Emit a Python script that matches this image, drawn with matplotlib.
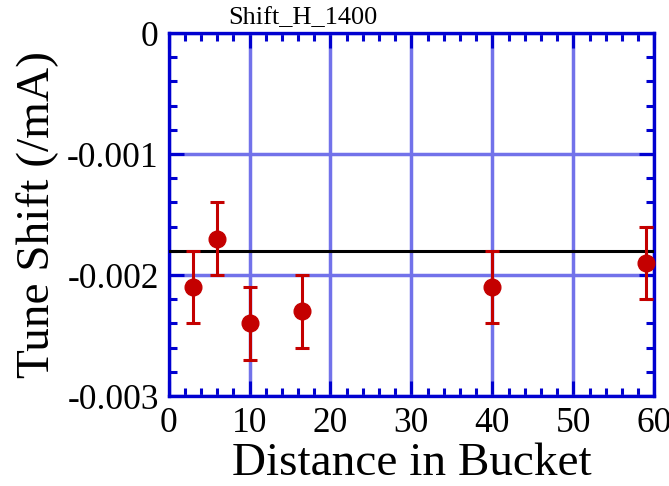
"""Tune shift vs. distance in bucket (Shift_H_1400)."""
import matplotlib.pyplot as plt
from matplotlib.ticker import MultipleLocator, FixedLocator

distance = [3, 6, 10, 16.5, 40, 59]
tune_shift = [-0.0021, -0.0017, -0.0024, -0.0023, -0.0021, -0.0019]
shift_err = [0.0003, 0.0003, 0.0003, 0.0003, 0.0003, 0.0003]
reference_level = -0.0018

x_ticks = [0, 10, 20, 30, 40, 50, 60]
y_ticks = [0, -0.001, -0.002, -0.003]
y_ticklabels = ["0", "-0.001", "-0.002", "-0.003"]

plt.rcParams["font.family"] = ["Liberation Serif", "DejaVu Serif"]

BLUE = "#0000d0"
GRID = "#7272ea"
RED = "#c40000"

fig = plt.figure(figsize=(6.69, 4.86), dpi=100)
ax = fig.add_axes([0.252, 0.185, 0.726, 0.747])

ax.set_xlim(0, 60)
ax.set_ylim(-0.003, 0)

ax.xaxis.set_major_locator(FixedLocator(x_ticks))
ax.xaxis.set_minor_locator(MultipleLocator(2))
ax.yaxis.set_major_locator(FixedLocator(y_ticks))
ax.yaxis.set_minor_locator(MultipleLocator(0.0002))
ax.set_yticklabels(y_ticklabels)

ax.grid(True, which="major", color=GRID, lw=2.5, zorder=0)
ax.set_axisbelow(True)

for s in ax.spines.values():
    s.set_color(BLUE)
    s.set_linewidth(2.4)

ax.tick_params(which="both", direction="in", top=True, right=True,
               color=BLUE, width=2.2, labelsize=25.5)
ax.tick_params(axis="x", pad=8)
ax.tick_params(axis="y", pad=7)
ax.tick_params(which="major", length=11)
ax.tick_params(which="minor", length=6)

ax.axhline(reference_level, color="black", lw=2.2, zorder=3)
ax.errorbar(distance, tune_shift, yerr=shift_err, fmt="o", color=RED,
            ms=12, elinewidth=2.2, capsize=5, capthick=2.2, zorder=4,
            clip_on=False)

ax.set_xlabel("Distance in Bucket", fontsize=34, labelpad=1.5)
ax.set_ylabel("Tune Shift (/mA)", fontsize=34, labelpad=6)

fig.text(0.341, 0.94, "Shift_H_1400", fontsize=19, ha="left", va="bottom")

fig.savefig("out.png", dpi=100)
